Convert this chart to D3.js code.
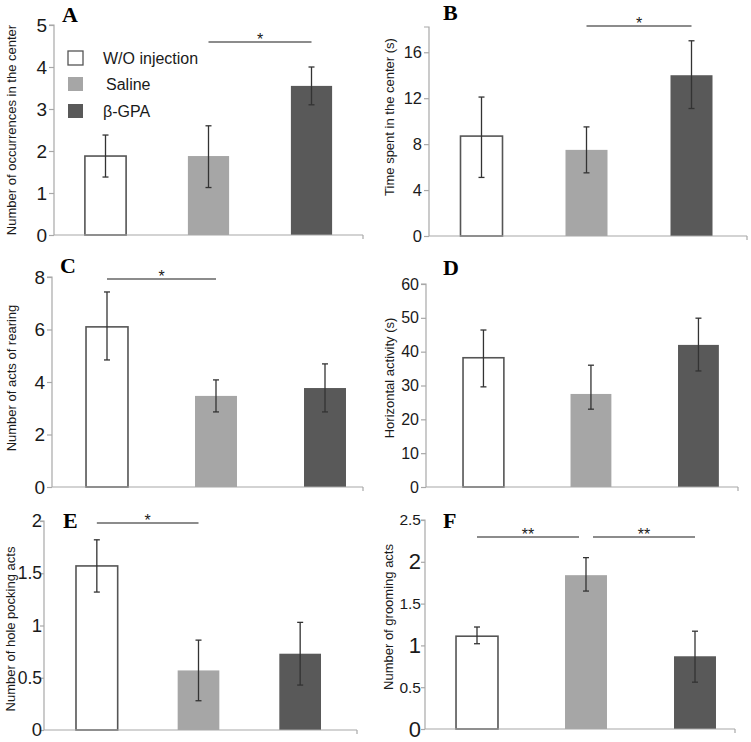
<!DOCTYPE html>
<html><head><meta charset="utf-8">
<script src="https://cdn.jsdelivr.net/npm/d3@7"></script>
<style>body{margin:0;background:#fff}svg{display:block}</style>
</head><body>
<svg id="chart" width="751" height="742"></svg>
<script>
// ---------- data ----------
const groups = ["W/O injection", "Saline", "β-GPA"];
const groupColors = ["#ffffff", "#a6a6a6", "#595959"];

const occMean = [1.88, 1.88, 3.55];
const occLow  = [1.38, 1.13, 3.10];
const occHigh = [2.38, 2.60, 4.00];

const timeMean = [8.7, 7.5, 14.0];
const timeLow  = [5.1, 5.5, 11.1];
const timeHigh = [12.1, 9.5, 17.0];

const rearMean = [6.1, 3.47, 3.77];
const rearLow  = [4.84, 2.86, 2.86];
const rearHigh = [7.43, 4.08, 4.69];

const horMean = [38.2, 27.5, 42.0];
const horLow  = [29.6, 23.0, 34.3];
const horHigh = [46.4, 36.0, 49.9];

const holeMean = [1.57, 0.57, 0.73];
const holeLow  = [1.32, 0.28, 0.43];
const holeHigh = [1.82, 0.86, 1.03];

const groomMean = [1.11, 1.84, 0.87];
const groomLow  = [1.02, 1.65, 0.56];
const groomHigh = [1.22, 2.05, 1.17];

const ticksA = [0, 1, 2, 3, 4, 5];
const ticksB = [0, 4, 8, 12, 16];
const ticksC = [0, 2, 4, 6, 8];
const ticksD = [0, 10, 20, 30, 40, 50, 60];
const ticksE = [0, 0.5, 1, 1.5, 2];
const ticksF = [0, 0.5, 1, 1.5, 2, 2.5];

// ---------- layout ----------
const svg = d3.select("#chart");

const panels = [
  {letter:"A", mean:occMean, lo:occLow, hi:occHigh, ticks:ticksA, dom:[0,5],
   yr:[235,25], axX:54, axEnd:363, band:[54,363], pi:0.6, tickFont:19, decFont:19, tsz:5, pad:2,
   title:"Number of occurrences in the center", tx:11, ty:130,
   lx:62, ly:22, sig:[[1,2]], sigY:42, stars:["*"], inset:0, legend:true},
  {letter:"B", mean:timeMean, lo:timeLow, hi:timeHigh, ticks:ticksB, dom:[0,18.2],
   yr:[236,27], axX:429, axEnd:747, band:[429,744], pi:0.6, tickFont:16.5, decFont:16.5, tsz:5, pad:2,
   title:"Time spent in the center (s)", tx:389, ty:117,
   lx:443, ly:20, sig:[[1,2]], sigY:26, stars:["*"], inset:0},
  {letter:"C", mean:rearMean, lo:rearLow, hi:rearHigh, ticks:ticksC, dom:[0,8],
   yr:[487,277], axX:52, axEnd:363, band:[52.5,379.5], pi:0.615, tickFont:19, decFont:19, tsz:5, pad:2,
   title:"Number of acts of rearing", tx:11, ty:378,
   lx:60, ly:273, sig:[[0,1]], sigY:279, stars:["*"], inset:0},
  {letter:"D", mean:horMean, lo:horLow, hi:horHigh, ticks:ticksD, dom:[0,60],
   yr:[487,284], axX:426, axEnd:738, band:[429.7,752.2], pi:0.62, tickFont:16, decFont:16, tsz:5, pad:2,
   title:"Horizontal activity (s)", tx:389, ty:378,
   lx:443, ly:275, sig:[], sigY:0, stars:[], inset:0},
  {letter:"E", mean:holeMean, lo:holeLow, hi:holeHigh, ticks:ticksE, dom:[0,2],
   yr:[730,521], axX:44, axEnd:357, band:[46,351], pi:0.59, tickFont:18.5, decFont:17.5, tsz:4, pad:-2,
   title:"Number of hole pocking acts", tx:10, ty:629,
   lx:63, ly:528, sig:[[0,1]], sigY:523, stars:["*"], inset:0},
  {letter:"F", mean:groomMean, lo:groomLow, hi:groomHigh, ticks:ticksF, dom:[0,2.5],
   yr:[729,520], axX:425, axEnd:735, band:[422.5,749.5], pi:0.615, tickFont:22, decFont:15.5, tsz:4, pad:0,
   title:"Number of grooming acts", tx:388, ty:617,
   lx:443, ly:528, sig:[[0,1],[1,2]], sigY:537, stars:["**","**"], inset:7}
];

const axisColor = "#a8a8a8";
const textColor = "#1a1a1a";

panels.forEach(p => {
  const g = svg.append("g");
  const y = d3.scaleLinear().domain(p.dom).range(p.yr);
  const x = d3.scaleBand().domain(groups).range(p.band)
              .paddingInner(p.pi).paddingOuter(p.pi/2);
  const cx = d => x(d) + x.bandwidth()/2;

  // y axis
  const yAxis = d3.axisLeft(y).tickValues(p.ticks).tickSize(p.tsz).tickPadding(p.pad)
                  .tickFormat(d => String(d));
  const ya = g.append("g").attr("transform", `translate(${p.axX},0)`).call(yAxis);
  ya.select(".domain").attr("stroke", axisColor).attr("stroke-width",1.2)
    .attr("d", `M-${p.tsz},${y(p.dom[1])}H0V${y(0)}`);
  ya.selectAll(".tick line").attr("stroke", axisColor).attr("stroke-width",1.2);
  ya.selectAll(".tick text").attr("fill", textColor)
    .style("font-family","'Liberation Sans', Arial, sans-serif")
    .style("font-size", d => (Number.isInteger(d) ? p.tickFont : p.decFont) + "px");

  // bars
  g.selectAll("rect.bar").data(groups).enter().append("rect")
    .attr("x", d => x(d)).attr("width", x.bandwidth())
    .attr("y", (d,i) => y(p.mean[i]))
    .attr("height", (d,i) => y(0) - y(p.mean[i]))
    .attr("fill", (d,i) => groupColors[i])
    .attr("stroke", (d,i) => i===0 ? "#555" : "none")
    .attr("stroke-width", 1.6);

  // x axis baseline
  g.append("line").attr("x1", p.axX).attr("x2", p.axEnd)
    .attr("y1", y(0)).attr("y2", y(0))
    .attr("stroke", axisColor).attr("stroke-width", 1.2);
  g.append("line").attr("x1", p.axEnd).attr("x2", p.axEnd)
    .attr("y1", y(0)).attr("y2", y(0)+4)
    .attr("stroke", axisColor).attr("stroke-width", 1.2);

  // error bars
  const eb = g.selectAll("g.err").data(groups).enter().append("g")
    .attr("stroke", "#333").attr("stroke-width", 1.3);
  eb.append("line")
    .attr("x1", cx).attr("x2", cx)
    .attr("y1", (d,i) => y(p.lo[i])).attr("y2", (d,i) => y(p.hi[i]));
  eb.append("line")
    .attr("x1", d => cx(d)-3).attr("x2", d => cx(d)+3)
    .attr("y1", (d,i) => y(p.lo[i])).attr("y2", (d,i) => y(p.lo[i]));
  eb.append("line")
    .attr("x1", d => cx(d)-3).attr("x2", d => cx(d)+3)
    .attr("y1", (d,i) => y(p.hi[i])).attr("y2", (d,i) => y(p.hi[i]));

  // significance
  p.sig.forEach((s, k) => {
    let x1 = cx(groups[s[0]]);
    let x2 = cx(groups[s[1]]);
    if (p.inset) {
      if (k === 0) x2 -= p.inset; else x1 += p.inset;
    }
    g.append("line").attr("x1", x1).attr("x2", x2)
      .attr("y1", p.sigY).attr("y2", p.sigY)
      .attr("stroke", "#666").attr("stroke-width", 1.5);
    g.append("text").attr("x", (x1+x2)/2).attr("y", p.sigY + 3)
      .attr("text-anchor","middle").attr("fill", textColor)
      .style("font-family","'Liberation Sans', Arial, sans-serif")
      .style("font-size","16px").text(p.stars[k]);
  });

  // y title
  g.append("text")
    .attr("transform", `translate(${p.tx},${p.ty}) rotate(-90)`)
    .attr("text-anchor","middle").attr("dominant-baseline","central")
    .attr("fill", textColor)
    .style("font-family","'Liberation Sans', Arial, sans-serif")
    .style("font-size","13px").text(p.title);

  // panel letter
  g.append("text").attr("x", p.lx).attr("y", p.ly)
    .attr("fill", "#000")
    .style("font-family","'Liberation Serif', 'Times New Roman', serif")
    .style("font-weight","bold").style("font-size","22px").text(p.letter);

  // legend
  if (p.legend) {
    const legY = [51, 77, 104];
    const legTX = [103, 106, 103];
    const lg = g.append("g");
    groups.forEach((name, i) => {
      lg.append("rect").attr("x", 68).attr("y", legY[i]).attr("width", 15).attr("height", 14)
        .attr("fill", groupColors[i])
        .attr("stroke", i===0 ? "#555" : "none").attr("stroke-width", 1.3);
      lg.append("text").attr("x", legTX[i]).attr("y", legY[i] + 12.5)
        .attr("fill", textColor)
        .style("font-family","'Liberation Sans', Arial, sans-serif")
        .style("font-size","16px").text(name);
    });
  }
});
</script>
</body></html>
